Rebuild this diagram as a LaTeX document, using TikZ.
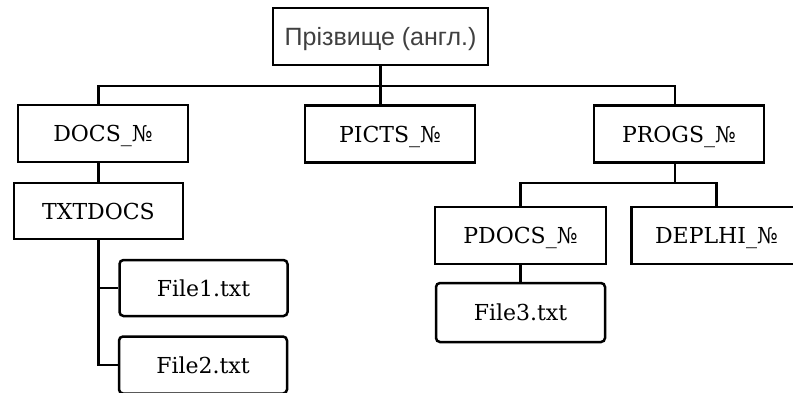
\documentclass[tikz,border=0pt]{standalone}
\usepackage{fontspec}
\setmainfont{DejaVu Serif}
\newfontfamily\rootfont{Liberation Sans}
\definecolor{roottext}{RGB}{64,64,64}

\begin{document}
\begin{tikzpicture}[x=1pt,y=-1pt,line width=2.5pt,
every node/.style={draw,inner sep=0pt,minimum height=57pt,
	font=\fontsize{22}{26}\selectfont,text height=16pt,text depth=0pt},
folder/.style={minimum width=170pt},
file/.style={minimum width=168pt,rounded corners=4pt}]
\useasboundingbox (0,0) rectangle (793,392);
\clip (0,0) rectangle (793,392);

%the boxes, placed at their centres
\node[minimum width=215pt,font=\rootfont\fontsize{25}{30}\selectfont,
	text=roottext,text height=18pt](root) at (380.5,36.5) {Прізвище (англ.)};
\node[folder](docs) at (103,133.5) {DOCS\_№};
\node[folder](picts) at (390,134) {PICTS\_№};
\node[folder](progs) at (679,134) {PROGS\_№};
\node[folder,minimum width=169pt,minimum height=56pt](txtdocs) at (98.5,211) {TXTDOCS};
\node[file,minimum height=56pt](file1) at (203.5,288) {File1.txt};
\node[file](file2) at (203,365) {File2.txt};
\node[folder,minimum width=171pt](pdocs) at (520.5,235.5) {PDOCS\_№};
\node[folder](deplhi) at (716.5,235.5) {DEPLHI\_№};
\node[file,minimum width=169pt,minimum height=59pt](file3) at (520.5,312.5) {File3.txt};

%points where the lines branch
\coordinate(busL) at (98.5,86);
\coordinate(busR) at (675,86);
\coordinate(pbus) at (675,183);

%connectors
\draw (busL |- docs.north) -- (busL) -- (busR) -- (busR |- progs.north);
\draw (root.south) -- (root.south |- picts.north);
\draw (txtdocs.north |- docs.south) -- (txtdocs.north);
\draw (txtdocs.south) |- (file2.west);
\draw (txtdocs.south |- file1.west) -- (file1.west);
\draw (pbus |- progs.south) -- (pbus);
\draw (pdocs.north) |- (pbus) -| (deplhi.north);
\draw (pdocs.south) -- (file3.north);

\end{tikzpicture}
\end{document}
